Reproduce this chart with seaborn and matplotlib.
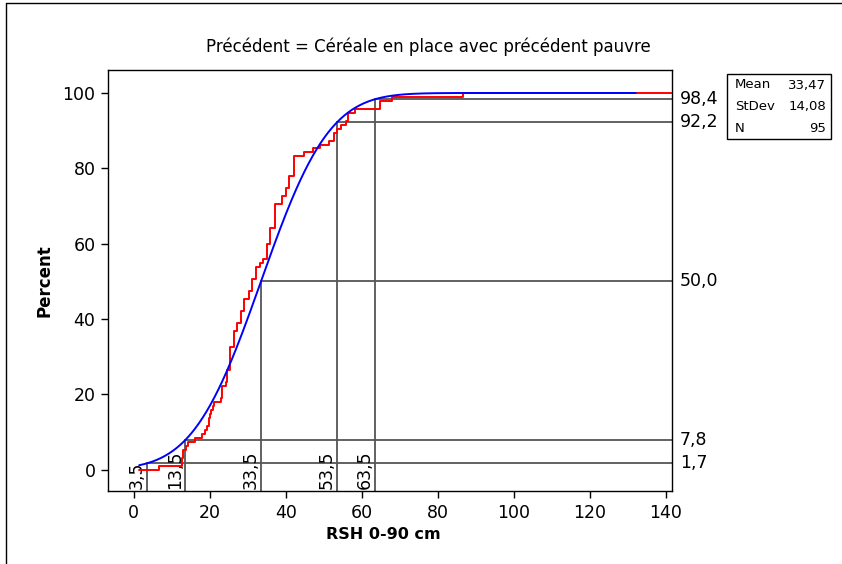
import numpy as np
import pandas as pd
import matplotlib
matplotlib.use("Agg")
import matplotlib.pyplot as plt
from matplotlib.lines import Line2D
from matplotlib.patches import Rectangle
from matplotlib.transforms import blended_transform_factory
import seaborn as sns
from math import erf, sqrt

# RSH 0-90 cm observations (n = 95)
rsh = [
    6.6,
    12.6, 12.8, 13.0, 13.0,
    13.7, 14.3, 16.1, 18.0,
    18.7, 19.2,
    19.7, 19.9, 20.0, 20.3,
    20.8, 21.2,
    23.0, 23.1, 23.1, 23.2,
    24.3, 24.4, 24.4, 24.5,
    25.3, 25.3, 25.3, 25.3, 25.3, 25.3,
    26.3, 26.3, 26.3, 26.3,
    27.2, 27.2,
    28.3, 28.3, 28.3,
    29.0, 29.0, 29.0,
    30.3, 30.3,
    31.2, 31.2, 31.2,
    32.1, 32.1, 32.1,
    33.2, 33.9,
    35.1, 35.1, 35.1, 35.1,
    35.9, 35.9, 35.9, 35.9,
    37.1, 37.1, 37.1, 37.1, 37.1, 37.1,
    39.0, 39.0,
    40.0, 40.0,
    40.9, 40.9, 40.9,
    42.1, 42.1, 42.1, 42.1, 42.1,
    44.7, 47.2, 49.0, 51.4,
    52.6, 52.6,
    53.4, 54.5, 55.7,
    56.4, 56.4,
    58.3,
    64.9, 64.9,
    67.8,
    86.7,
]

# Fitted normal parameters
mean_rsh = 33.47
sd_rsh = 14.08

# Reference marks: x values and the fitted percent at each
ref_x = [3.5, 13.5, 33.5, 53.5, 63.5]
ref_pct = [1.7, 7.8, 50.0, 92.2, 98.4]

title = "Précédent = Céréale en place avec précédent pauvre"
x_label = "RSH 0-90 cm"
y_label = "Percent"
x_ticks = [0, 20, 40, 60, 80, 100, 120, 140]
y_ticks = [0, 20, 40, 60, 80, 100]

fit_start = 1.4
x_lim = (-6.8, 141.6)
y_lim = (-5.7, 106.1)


def fmt(v, d=1):
    return f"{v:.{d}f}".replace(".", ",")


def norm_cdf(x):
    return 0.5 * (1.0 + erf((x - mean_rsh) / (sd_rsh * sqrt(2.0))))


sns.set_theme(style="white")
plt.rcParams["font.family"] = ["DejaVu Sans"]
plt.rcParams["text.color"] = "black"
plt.rcParams["axes.labelcolor"] = "black"

W, H = 842, 564
fig = plt.figure(figsize=(W / 100, H / 100), dpi=100)
ax_l, ax_r, ax_t, ax_b = 108, 672, 70, 491
ax = fig.add_axes([ax_l / W, 1 - ax_b / H, (ax_r - ax_l) / W, (ax_b - ax_t) / H])

# Empirical CDF as a step table
n = len(rsh)
xs = np.sort(np.array(rsh, dtype=float))
ecdf = pd.DataFrame({
    "x": np.r_[fit_start, xs, x_lim[1]],
    "pct": np.r_[0.0, np.arange(1, n + 1) / n * 100.0, 100.0],
})

# Fitted normal CDF
gx = np.linspace(fit_start, mean_rsh + 7 * sd_rsh, 500)
fit = pd.DataFrame({"x": gx, "pct": [norm_cdf(v) * 100 for v in gx]})

# Reference lines
ref_col = "#555555"
trans = blended_transform_factory(ax.transData, ax.transAxes)
for xv, p in zip(ref_x, ref_pct):
    ax.plot([xv, xv], [y_lim[0], p], color=ref_col, lw=1.3, zorder=1)
    ax.plot([xv, x_lim[1]], [p, p], color=ref_col, lw=1.3, zorder=1)
    ax.text(xv - 0.4, 0.004, fmt(xv), rotation=90, ha="right", va="bottom",
            transform=trans, fontsize=12.5, color="black")
    ax.text(1.014, (p - y_lim[0]) / (y_lim[1] - y_lim[0]), fmt(p),
            transform=ax.transAxes, ha="left", va="center", fontsize=12.5,
            color="black")

sns.lineplot(data=ecdf, x="x", y="pct", color="#FF0000", lw=1.4,
             drawstyle="steps-post", estimator=None, sort=False, ax=ax,
             zorder=3)
sns.lineplot(data=fit, x="x", y="pct", color="#0000FF", lw=1.4,
             estimator=None, sort=False, ax=ax, zorder=4)

ax.set_xlim(*x_lim)
ax.set_ylim(*y_lim)
ax.set_xticks(x_ticks)
ax.set_yticks(y_ticks)
ax.tick_params(axis="both", direction="out", length=5, width=1,
               labelsize=12.5, colors="black", bottom=True, left=True, pad=4)
for s in ax.spines.values():
    s.set_color("black")
    s.set_linewidth(1.0)
ax.set_xlabel(x_label, fontsize=11.5, fontweight="bold", labelpad=6)
ax.xaxis.set_label_coords((383 - ax_l) / (ax_r - ax_l), -0.085)
ax.set_ylabel(y_label, fontsize=12, fontweight="bold")
ax.yaxis.set_label_coords((53 - ax_l) / (ax_r - ax_l), 0.5)
fig.text(428 / W, 1 - 47 / H, title, ha="center", va="center",
         fontsize=12, color="black")

# Summary box
bx0, by0, bx1, by1 = 727, 74, 831, 139
fig.add_artist(Rectangle((bx0 / W, 1 - by1 / H), (bx1 - bx0) / W,
                         (by1 - by0) / H, transform=fig.transFigure,
                         facecolor="white", edgecolor="black", lw=1.0))
rows = [("Mean", fmt(mean_rsh, 2)), ("StDev", fmt(sd_rsh, 2)), ("N", str(n))]
for i, (k, v) in enumerate(rows):
    yy = 1 - (85 + i * 21.5) / H
    fig.text(735 / W, yy, k, ha="left", va="center", fontsize=9.5)
    fig.text(826 / W, yy, v, ha="right", va="center", fontsize=9.5)

# Graph frame
fig.add_artist(Line2D([5.5 / W, 5.5 / W], [0, 1 - 2.5 / H], color="black", lw=1.0))
fig.add_artist(Line2D([5.5 / W, 1], [1 - 2.5 / H, 1 - 2.5 / H], color="black", lw=1.0))

fig.savefig("out.png", dpi=100)
